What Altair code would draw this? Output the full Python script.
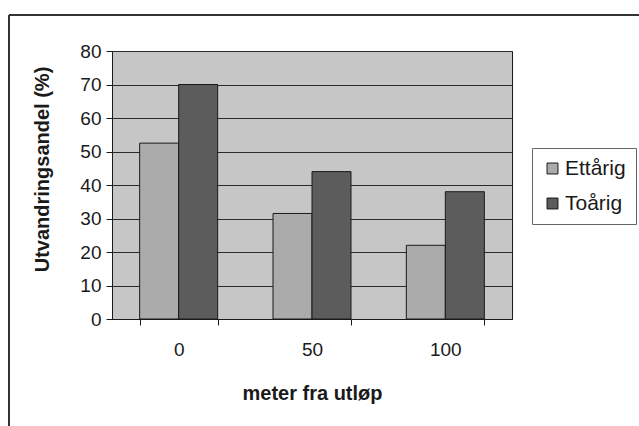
import altair as alt
import pandas as pd

categories = ["0", "50", "100"]
series = ["Ettårig", "Toårig"]
ettarig = [52.5, 31.5, 22]
toarig = [70, 44, 38]
y_ticks = [0, 10, 20, 30, 40, 50, 60, 70, 80]

rows = []
for c, v in zip(categories, ettarig):
    rows.append({"meter": c, "serie": "Ettårig", "andel": v})
for c, v in zip(categories, toarig):
    rows.append({"meter": c, "serie": "Toårig", "andel": v})
df = pd.DataFrame(rows)

FONT = "Liberation Sans"

bars = alt.Chart(df).mark_bar(stroke="#1a1a1a", strokeWidth=1).encode(
    x=alt.X(
        "meter:N",
        sort=categories,
        scale=alt.Scale(paddingInner=0.415, paddingOuter=0.2075),
        axis=alt.Axis(
            title="meter fra utløp",
            labelAngle=0,
            tickBand="extent",
            tickSize=6,
            tickColor="#1a1a1a",
            domainColor="#1a1a1a",
            labelPadding=15,
            labelFontSize=19,
            labelColor="#1a1a1a",
            labelFont=FONT,
            titleFont=FONT,
            titleFontSize=20,
            titleFontWeight="bold",
            titleColor="#1a1a1a",
            titleBaseline="alphabetic",
            titleY=80,
            grid=False,
        ),
    ),
    xOffset=alt.XOffset("serie:N", sort=series),
    y=alt.Y(
        "andel:Q",
        scale=alt.Scale(domain=[0, 80], nice=False),
        axis=alt.Axis(
            title="Utvandringsandel (%)",
            values=y_ticks,
            tickSize=6,
            tickColor="#1a1a1a",
            domainColor="#1a1a1a",
            labelPadding=5,
            labelFontSize=19,
            labelColor="#1a1a1a",
            labelFont=FONT,
            titleFont=FONT,
            titleFontSize=20,
            titleFontWeight="bold",
            titleColor="#1a1a1a",
            titleX=-60,
            titleY=118,
            grid=True,
            gridColor="#2a2a2a",
            gridWidth=1,
        ),
    ),
    color=alt.Color(
        "serie:N",
        sort=series,
        scale=alt.Scale(domain=series, range=["#ababab", "#5c5c5c"]),
        legend=alt.Legend(
            title=None,
            orient="none",
            legendX=420,
            legendY=97,
            strokeColor="#666666",
            fillColor="white",
            padding=10,
            symbolType="square",
            symbolSize=120,
            symbolStrokeColor="#1a1a1a",
            symbolStrokeWidth=1,
            labelFontSize=21,
            labelFont=FONT,
            labelColor="#1a1a1a",
            labelOffset=2,
            rowPadding=13,
        ),
    ),
)

frame_df = pd.DataFrame({"a": [0]})
frame_left = alt.Chart(frame_df).mark_rule(color="#333333", strokeWidth=2).encode(
    x=alt.value(-103), y=alt.value(-36), y2=alt.value(400)
)
frame_top = alt.Chart(frame_df).mark_rule(color="#333333", strokeWidth=2).encode(
    x=alt.value(-103), x2=alt.value(600), y=alt.value(-36)
)

chart = alt.layer(bars, frame_left, frame_top).properties(
    width=400,
    height=268,
    autosize=alt.AutoSizeParams(type="none"),
    padding={"left": 112, "top": 51, "right": 127, "bottom": 107},
    background="white",
).configure_view(
    fill="#c6c6c6",
    stroke="#1a1a1a",
    strokeWidth=1,
)

chart.save("out.html", embed_options={"renderer": "svg", "actions": False})
